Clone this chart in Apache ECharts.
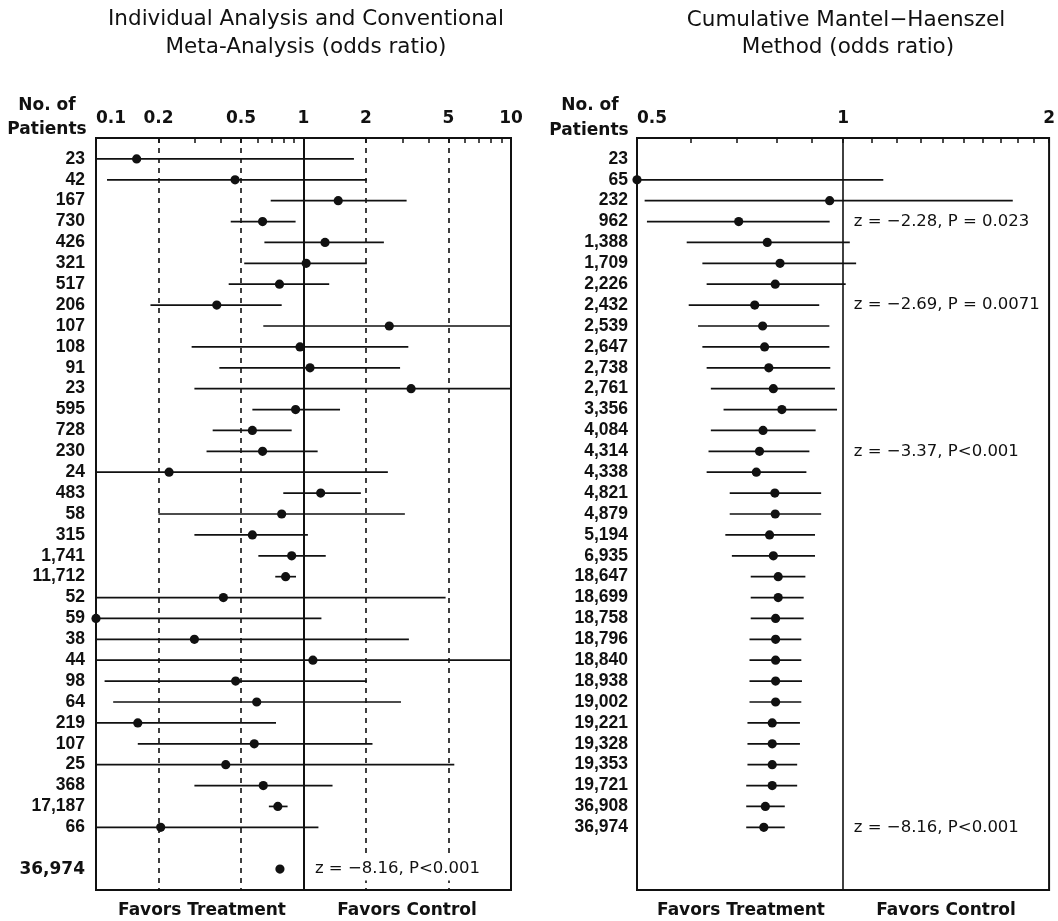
<!DOCTYPE html>
<html>
<head>
<meta charset="utf-8">
<script src="https://cdn.jsdelivr.net/npm/echarts@6/dist/echarts.min.js"></script>
<style>
html, body { margin: 0; background: #fff; }
#chart { width: 1058px; height: 921px; }
</style>
</head>
<body>
<div id="chart"></div>
<script>
// left panel: individual trials (odds ratio, 95% CI)
let leftPatients = ['23','42','167','730','426','321','517','206','107','108','91','23','595','728','230','24','483','58','315','1,741','11,712','52','59','38','44','98','64','219','107','25','368','17,187','66']
let leftOR = [0.157,0.468,1.47,0.635,1.27,1.03,0.766,0.382,2.59,0.962,1.075,3.30,0.916,0.567,0.635,0.225,1.21,0.785,0.567,0.877,0.820,0.411,0.1,0.298,1.11,0.471,0.595,0.159,0.579,0.422,0.640,0.752,0.205]
let leftLo = [0.1,0.113,0.695,0.446,0.648,0.518,0.436,0.183,0.640,0.289,0.393,0.298,0.567,0.365,0.341,0.1,0.799,0.200,0.298,0.606,0.731,0.1,0.1,0.1,0.1,0.110,0.121,0.1,0.159,0.1,0.298,0.681,0.1]
let leftHi = [1.75,2.02,3.14,0.916,2.44,2.02,1.33,0.785,10,3.20,2.92,10,1.50,0.877,1.17,2.55,1.89,3.08,1.05,1.28,0.920,4.84,1.22,3.22,10,2.02,2.95,0.737,2.15,5.33,1.38,0.838,1.18]
let leftTotalPatients = '36,974'
let leftTotal = [0.75, 0.79, 0.77]
let leftTotalRow = 34

// right panel: cumulative Mantel-Haenszel
let rightPatients = ['23','65','232','962','1,388','1,709','2,226','2,432','2,539','2,647','2,738','2,761','3,356','4,084','4,314','4,338','4,821','4,879','5,194','6,935','18,647','18,699','18,758','18,796','18,840','18,938','19,002','19,221','19,328','19,353','19,721','36,908','36,974']
let rightOR = [null,0.5,0.956,0.704,0.775,0.809,0.796,0.743,0.763,0.768,0.779,0.791,0.814,0.764,0.755,0.747,0.795,0.796,0.781,0.791,0.804,0.804,0.797,0.797,0.797,0.797,0.797,0.788,0.788,0.788,0.788,0.770,0.766]
let rightLo = [null,0.5,0.513,0.517,0.591,0.623,0.632,0.595,0.614,0.623,0.632,0.641,0.669,0.641,0.636,0.632,0.683,0.683,0.673,0.688,0.733,0.733,0.733,0.730,0.730,0.730,0.730,0.725,0.725,0.725,0.722,0.722,0.722]
let rightHi = [null,1.145,1.77,0.956,1.023,1.045,1.009,0.923,0.955,0.955,0.958,0.973,0.980,0.912,0.893,0.884,0.929,0.929,0.910,0.910,0.881,0.876,0.876,0.869,0.869,0.871,0.869,0.865,0.865,0.857,0.857,0.822,0.822]

// z statistics
let leftNotes = ['z = \u22128.16, P<0.001']
let leftNoteRows = [34]
let rightNotes = ['z = \u22122.28, P = 0.023','z = \u22122.69, P = 0.0071','z = \u22123.37, P<0.001','z = \u22128.16, P<0.001']
let rightNoteRows = [3, 7, 14, 32]

// axis ticks
let leftTicks = [0.1,0.2,0.3,0.4,0.5,0.6,0.7,0.8,0.9,1,2,3,4,5,6,7,8,9,10]
let leftTickLabels = [0.1,0.2,0.5,1,2,5,10]
let leftDashed = [0.2,0.5,2,5]
let rightTicks = [0.5,0.6,0.7,0.8,0.9,1,1.1,1.2,1.3,1.4,1.5,1.6,1.7,1.8,1.9,2]
let rightTickLabels = [0.5,1,2]

const INK = '#111'
const SANS = '"DejaVu Sans", sans-serif'

function forestItem(params, api) {
    let y = api.value(3)
    let a = api.coord([api.value(0), y])
    let b = api.coord([api.value(1), y])
    let p = api.coord([api.value(2), y])
    return {
        type: 'group',
        children: [
            { type: 'line', shape: { x1: a[0], y1: a[1], x2: b[0], y2: b[1] }, style: { stroke: INK, lineWidth: 1.7 } },
            { type: 'circle', shape: { cx: p[0], cy: p[1], r: 4.6 }, style: { fill: INK } }
        ]
    }
}

function noteItem(texts) {
    return function (params, api) {
        let p = api.coord([api.value(0), api.value(1)])
        return {
            type: 'text',
            x: p[0], y: p[1],
            style: {
                text: texts[params.dataIndex], font: '16.5px ' + SANS, fill: INK,
                align: 'left', verticalAlign: 'middle',
                backgroundColor: '#fff', padding: [3, 2]
            }
        }
    }
}

let leftData = leftOR.map((v, i) => [leftLo[i], leftHi[i], v, i])
leftData.push([leftTotal[0], leftTotal[1], leftTotal[2], leftTotalRow])
let rightData = []
rightOR.forEach((v, i) => {
    if (v != null) rightData.push([rightLo[i], rightHi[i], v, i])
})

let leftRowLabels = {}
leftPatients.forEach((p, i) => { leftRowLabels[i] = p })
leftRowLabels[leftTotalRow] = '{big|' + leftTotalPatients + '}'
let rightRowLabels = {}
rightPatients.forEach((p, i) => { rightRowLabels[i] = p })

function xAxisFor(gridIndex, base, min, max, ticks, labels) {
    return {
        type: 'log',
        logBase: base,
        gridIndex: gridIndex,
        position: 'top',
        min: min,
        max: max,
        axisLine: { show: true, onZero: false, lineStyle: { color: INK, width: 2 } },
        axisTick: { show: true, inside: true, length: 5, customValues: ticks, lineStyle: { color: INK, width: 1.5 } },
        axisLabel: {
            customValues: labels,
            margin: 11,
            color: INK,
            fontFamily: SANS,
            fontWeight: 'bold',
            fontSize: 17,
            alignMinLabel: 'left',
            formatter: v => String(+v.toFixed(2))
        },
        splitLine: { show: false },
        minorTick: { show: false }
    }
}

function yAxisFor(gridIndex, rowLabels, margin) {
    return {
        type: 'value',
        gridIndex: gridIndex,
        inverse: true,
        min: -1,
        max: 35,
        interval: 1,
        axisLine: { show: false, onZero: false },
        axisTick: { show: false },
        splitLine: { show: false },
        axisLabel: {
            margin: margin,
            color: INK,
            fontFamily: '"Liberation Sans", Arial, sans-serif',
            fontWeight: 'bold',
            fontSize: 17.5,
            formatter: v => rowLabels[v] || '',
            rich: { big: { fontFamily: SANS, fontWeight: 'bold', fontSize: 17, color: INK } }
        }
    }
}

function txt(s, x, y, size, bold) {
    return {
        type: 'text', x: x, y: y, silent: true,
        style: { text: s, font: (bold ? 'bold ' : '') + size + 'px ' + SANS, fill: INK, align: 'center', verticalAlign: 'middle' }
    }
}

let option = {
    backgroundColor: '#fff',
    animation: false,
    grid: [
        { left: 96, top: 138, width: 415, height: 752, show: true, borderColor: INK, borderWidth: 2, backgroundColor: 'transparent' },
        { left: 637, top: 138, width: 413, height: 752, show: true, borderColor: INK, borderWidth: 2, backgroundColor: 'transparent' }
    ],
    xAxis: [
        xAxisFor(0, 10, 0.1, 10, leftTicks, leftTickLabels),
        xAxisFor(1, 2, 0.5, 2, rightTicks, rightTickLabels)
    ],
    yAxis: [
        yAxisFor(0, leftRowLabels, 11),
        yAxisFor(1, rightRowLabels, 9)
    ],
    graphic: [
        txt('Individual Analysis and Conventional', 306, 19, 21.5, false),
        txt('Meta-Analysis (odds ratio)', 306, 47, 21.5, false),
        txt('Cumulative Mantel\u2212Haenszel', 846, 20, 21.5, false),
        txt('Method (odds ratio)', 848, 47, 21.5, false),
        txt('No. of', 47, 106, 17, true),
        txt('Patients', 47, 130, 17, true),
        txt('No. of', 590, 106, 17, true),
        txt('Patients', 589, 131, 17, true),
        txt('Favors Treatment', 202, 911, 17, true),
        txt('Favors Control', 407, 911, 17, true),
        txt('Favors Treatment', 741, 911, 17, true),
        txt('Favors Control', 946, 911, 17, true)
    ],
    series: [
        {
            type: 'custom',
            xAxisIndex: 0, yAxisIndex: 0,
            renderItem: forestItem,
            encode: { x: [0, 1, 2], y: 3 },
            data: leftData,
            z: 3,
            markLine: {
                silent: true,
                z: 2,
                symbol: 'none',
                label: { show: false },
                data: leftDashed.map(v => ({ xAxis: v, lineStyle: { type: [5, 5], color: INK, width: 1.6 } }))
                    .concat([{ xAxis: 1, lineStyle: { type: 'solid', color: INK, width: 2 } }])
            }
        },
        {
            type: 'custom',
            xAxisIndex: 0, yAxisIndex: 0,
            renderItem: noteItem(leftNotes),
            encode: { x: 0, y: 1 },
            data: leftNoteRows.map(r => [1.11, r]),
            z: 10
        },
        {
            type: 'custom',
            xAxisIndex: 1, yAxisIndex: 1,
            renderItem: forestItem,
            encode: { x: [0, 1, 2], y: 3 },
            data: rightData,
            z: 3,
            markLine: {
                silent: true,
                z: 2,
                symbol: 'none',
                label: { show: false },
                data: [{ xAxis: 1, lineStyle: { type: 'solid', color: INK, width: 1.6 } }]
            }
        },
        {
            type: 'custom',
            xAxisIndex: 1, yAxisIndex: 1,
            renderItem: noteItem(rightNotes),
            encode: { x: 0, y: 1 },
            data: rightNoteRows.map(r => [1.03, r]),
            z: 10
        }
    ]
}

let myChart = echarts.init(document.getElementById('chart'), null, { renderer: 'canvas' })
myChart.setOption(option)
</script>
</body>
</html>
